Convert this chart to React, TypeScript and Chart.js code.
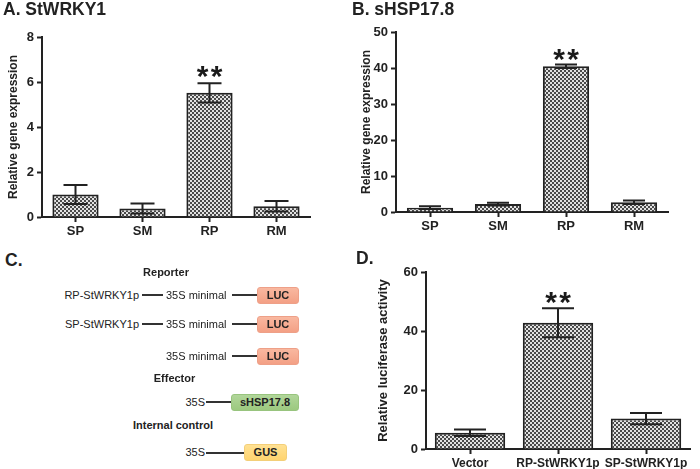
import React, { useEffect, useRef } from "react";
import { Chart, registerables } from "chart.js";

Chart.register(...registerables);

const FONT = '"Liberation Sans", Arial, sans-serif';

// Panel A: StWRKY1
const catsA = ["SP", "SM", "RP", "RM"];
const valsA = [1.0, 0.38, 5.52, 0.48];
const errA = [0.42, 0.22, 0.43, 0.23];

// Panel B: sHSP17.8
const catsB = ["SP", "SM", "RP", "RM"];
const valsB = [1.2, 2.2, 40.5, 2.7];
const errB = [0.4, 0.4, 0.5, 0.5];

// Panel D: luciferase
const catsD = ["Vector", "RP-StWRKY1p", "SP-StWRKY1p"];
const valsD = [5.5, 42.8, 10.3];
const errD = [1.1, 4.9, 1.9];

function makePattern(ctx: CanvasRenderingContext2D) {
  const c = document.createElement("canvas");
  c.width = 4;
  c.height = 4;
  const g = c.getContext("2d")!;
  g.fillStyle = "#e2e2e2";
  g.fillRect(0, 0, 4, 4);
  g.fillStyle = "#4a4a4a";
  g.fillRect(0, 0, 2, 2);
  g.fillRect(2, 2, 2, 2);
  return ctx.createPattern(c, "repeat")!;
}

function errorPlugin(errors: number[], capW: number, starIdx: number, starGap: number) {
  return {
    id: "errbars",
    afterDatasetsDraw(chart: any) {
      const ctx = chart.ctx as CanvasRenderingContext2D;
      const meta = chart.getDatasetMeta(0);
      const ys = chart.scales.y;
      const vals = chart.data.datasets[0].data as number[];
      ctx.save();
      ctx.strokeStyle = "#222";
      ctx.lineWidth = 2;
      meta.data.forEach((el: any, i: number) => {
        const x = el.x;
        const yt = ys.getPixelForValue(vals[i] + errors[i]);
        const yb = ys.getPixelForValue(vals[i] - errors[i]);
        ctx.beginPath();
        ctx.moveTo(x, yt);
        ctx.lineTo(x, yb);
        ctx.moveTo(x - capW / 2, yt);
        ctx.lineTo(x + capW / 2, yt);
        ctx.moveTo(x - capW / 2, yb);
        ctx.lineTo(x + capW / 2, yb);
        ctx.stroke();
      });
      const el = meta.data[starIdx];
      const yt = ys.getPixelForValue(vals[starIdx] + errors[starIdx]);
      ctx.fillStyle = "#1a1a1a";
      ctx.font = `bold 30px ${FONT}`;
      ctx.textAlign = "center";
      ctx.textBaseline = "alphabetic";
      const m = ctx.measureText("*");
      const asc = m.actualBoundingBoxAscent;
      const desc = m.actualBoundingBoxDescent;
      const cy = yt - starGap;
      const by = cy + (asc - desc) / 2;
      ctx.fillText("*", el.x - 7, by);
      ctx.fillText("*", el.x + 7, by);
      ctx.restore();
    },
  };
}

type Cfg = {
  labels: string[];
  values: number[];
  errors: number[];
  yMax: number;
  yStep: number;
  yTitle: string;
  yTitleSize: number;
  yTitlePad: number;
  barPct: number;
  capW: number;
  starIdx: number;
  starGap: number;
  pad: { top: number; right: number; bottom: number; left: number };
  yWidth: number;
  xHeight: number;
  xFont: number;
  yFont: number;
  xPad: number;
};

function BarPanel({ cfg, left, top, width, height }: { cfg: Cfg; left: number; top: number; width: number; height: number }) {
  const ref = useRef<HTMLCanvasElement>(null);
  useEffect(() => {
    const canvas = ref.current!;
    const ctx = canvas.getContext("2d")!;
    const pattern = makePattern(ctx);
    const chart = new Chart(canvas, {
      type: "bar",
      data: {
        labels: cfg.labels,
        datasets: [
          {
            data: cfg.values,
            backgroundColor: pattern as any,
            borderColor: "#222",
            borderWidth: 2,
            categoryPercentage: 1,
            barPercentage: cfg.barPct,
          },
        ],
      },
      options: {
        responsive: false,
        animation: false,
        events: [],
        layout: { padding: cfg.pad },
        plugins: { legend: { display: false }, tooltip: { enabled: false } },
        scales: {
          x: {
            afterFit: (s: any) => {
              s.height = cfg.xHeight;
            },
            grid: {
              display: true,
              drawOnChartArea: false,
              drawTicks: true,
              tickLength: 5,
              offset: false,
              tickColor: "#222",
              tickWidth: 2,
            },
            border: { display: true, color: "#222", width: 2 },
            ticks: {
              color: "#222",
              padding: cfg.xPad,
              maxRotation: 0,
              autoSkip: false,
              font: { family: FONT, size: cfg.xFont, weight: "bold" },
            },
          },
          y: {
            min: 0,
            max: cfg.yMax,
            afterFit: (s: any) => {
              s.width = cfg.yWidth;
            },
            grid: {
              display: true,
              drawOnChartArea: false,
              drawTicks: true,
              tickLength: 5,
              tickColor: "#222",
              tickWidth: 2,
            },
            border: { display: true, color: "#222", width: 2 },
            ticks: {
              stepSize: cfg.yStep,
              color: "#222",
              padding: 3,
              font: { family: FONT, size: cfg.yFont, weight: "bold" },
            },
            title: {
              display: true,
              text: cfg.yTitle,
              color: "#222",
              padding: { top: cfg.yTitlePad, bottom: 0 },
              font: { family: FONT, size: cfg.yTitleSize, weight: "bold" },
            },
          },
        },
      },
      plugins: [errorPlugin(cfg.errors, cfg.capW, cfg.starIdx, cfg.starGap)],
    });
    return () => chart.destroy();
  }, []);
  return (
    <canvas
      ref={ref}
      width={width}
      height={height}
      style={{ position: "absolute", left, top, width, height }}
    />
  );
}

function T({ x, y, text, size = 11, bold = false, align = "left" }: { x: number; y: number; text: string; size?: number; bold?: boolean; align?: "left" | "right" | "center" }) {
  const w = 200;
  let l = x;
  if (align === "right") l = x - w;
  if (align === "center") l = x - w / 2;
  return (
    <div
      style={{
        position: "absolute",
        left: l,
        top: y - size * 0.49,
        width: w,
        textAlign: align,
        fontSize: size,
        lineHeight: 1,
        fontWeight: bold ? "bold" : "normal",
        color: "#222",
        whiteSpace: "nowrap",
      }}
    >
      {text}
    </div>
  );
}

function Line({ x1, x2, y }: { x1: number; x2: number; y: number }) {
  return <div style={{ position: "absolute", left: x1, top: y - 1, width: x2 - x1, height: 2, background: "#333" }} />;
}

function Box({ x1, x2, y, text, bg, border }: { x1: number; x2: number; y: number; text: string; bg: string; border: string }) {
  const h = 17;
  return (
    <div
      style={{
        position: "absolute",
        left: x1,
        top: y - h / 2,
        width: x2 - x1,
        height: h,
        boxSizing: "border-box",
        background: bg,
        border: `1px solid ${border}`,
        borderRadius: 3,
        textAlign: "center",
        lineHeight: `${h - 2}px`,
        fontSize: 11,
        fontWeight: "bold",
        color: "#222",
      }}
    >
      {text}
    </div>
  );
}

const cfgA: Cfg = {
  labels: catsA,
  values: valsA,
  errors: errA,
  yMax: 8,
  yStep: 2,
  yTitle: "Relative gene expression",
  yTitleSize: 12,
  yTitlePad: 6.8,
  barPct: 0.69,
  capW: 24,
  starIdx: 2,
  starGap: 11.3,
  pad: { top: 37, right: 30, bottom: 0, left: 0 },
  yWidth: 42,
  xHeight: 28,
  xFont: 13,
  yFont: 13,
  xPad: 2,
};

const cfgB: Cfg = {
  labels: catsB,
  values: valsB,
  errors: errB,
  yMax: 50,
  yStep: 10,
  yTitle: "Relative gene expression",
  yTitleSize: 12,
  yTitlePad: 9.8,
  barPct: 0.68,
  capW: 22,
  starIdx: 2,
  starGap: 9.5,
  pad: { top: 32, right: 27, bottom: 0, left: 0 },
  yWidth: 46,
  xHeight: 28,
  xFont: 13,
  yFont: 13,
  xPad: 2,
};

const cfgD: Cfg = {
  labels: catsD,
  values: valsD,
  errors: errD,
  yMax: 60,
  yStep: 20,
  yTitle: "Relative luciferase activity",
  yTitleSize: 13,
  yTitlePad: 25.2,
  barPct: 0.8,
  capW: 32,
  starIdx: 1,
  starGap: 9.8,
  pad: { top: 32, right: 10, bottom: 0, left: 0 },
  yWidth: 76,
  xHeight: 20,
  xFont: 12,
  yFont: 13,
  xPad: 2,
};

const LUC_BG = "linear-gradient(#f9b8a0, #f3a085)";
const LUC_BD = "#eea088";
const HSP_BG = "linear-gradient(#b1d69a, #9cc97f)";
const HSP_BD = "#98c47e";
const GUS_BG = "linear-gradient(#ffe193, #ffd46f)";
const GUS_BD = "#f3cf79";

export default function App() {
  return (
    <div
      style={{
        position: "absolute",
        left: 0,
        top: 0,
        width: 700,
        height: 469,
        background: "#fff",
        fontFamily: FONT,
        overflow: "hidden",
      }}
    >
      <BarPanel cfg={cfgA} left={0} top={0} width={340} height={245} />
      <BarPanel cfg={cfgB} left={350} top={0} width={345} height={240} />
      <BarPanel cfg={cfgD} left={350} top={240} width={350} height={229} />

      <T x={3} y={9.5} text="A. StWRKY1" size={17.5} bold />
      <T x={352} y={9.5} text="B. sHSP17.8" size={17.5} bold />
      <T x={5} y={261} text="C." size={17.5} bold />
      <T x={356} y={258.5} text="D." size={17.5} bold />

      <T x={166} y={272} text="Reporter" bold align="center" />
      <T x={139} y={295} text="RP-StWRKY1p" align="right" />
      <Line x1={142} x2={163} y={295} />
      <T x={166} y={295} text="35S minimal" />
      <Line x1={232} x2={257} y={295} />
      <Box x1={257} x2={299} y={295} text="LUC" bg={LUC_BG} border={LUC_BD} />

      <T x={139} y={324} text="SP-StWRKY1p" align="right" />
      <Line x1={142} x2={163} y={324} />
      <T x={166} y={324} text="35S minimal" />
      <Line x1={232} x2={257} y={324} />
      <Box x1={257} x2={299} y={324} text="LUC" bg={LUC_BG} border={LUC_BD} />

      <T x={166} y={356} text="35S minimal" />
      <Line x1={232} x2={257} y={356} />
      <Box x1={257} x2={299} y={356} text="LUC" bg={LUC_BG} border={LUC_BD} />

      <T x={174.5} y={378} text="Effector" bold align="center" />
      <T x={205} y={402} text="35S" align="right" />
      <Line x1={206} x2={231} y={402} />
      <Box x1={231} x2={299} y={402} text="sHSP17.8" bg={HSP_BG} border={HSP_BD} />

      <T x={173} y={425} text="Internal control" bold align="center" />
      <T x={205} y={452.5} text="35S" align="right" />
      <Line x1={206} x2={244} y={452.5} />
      <Box x1={244} x2={287} y={452.5} text="GUS" bg={GUS_BG} border={GUS_BD} />
    </div>
  );
}
